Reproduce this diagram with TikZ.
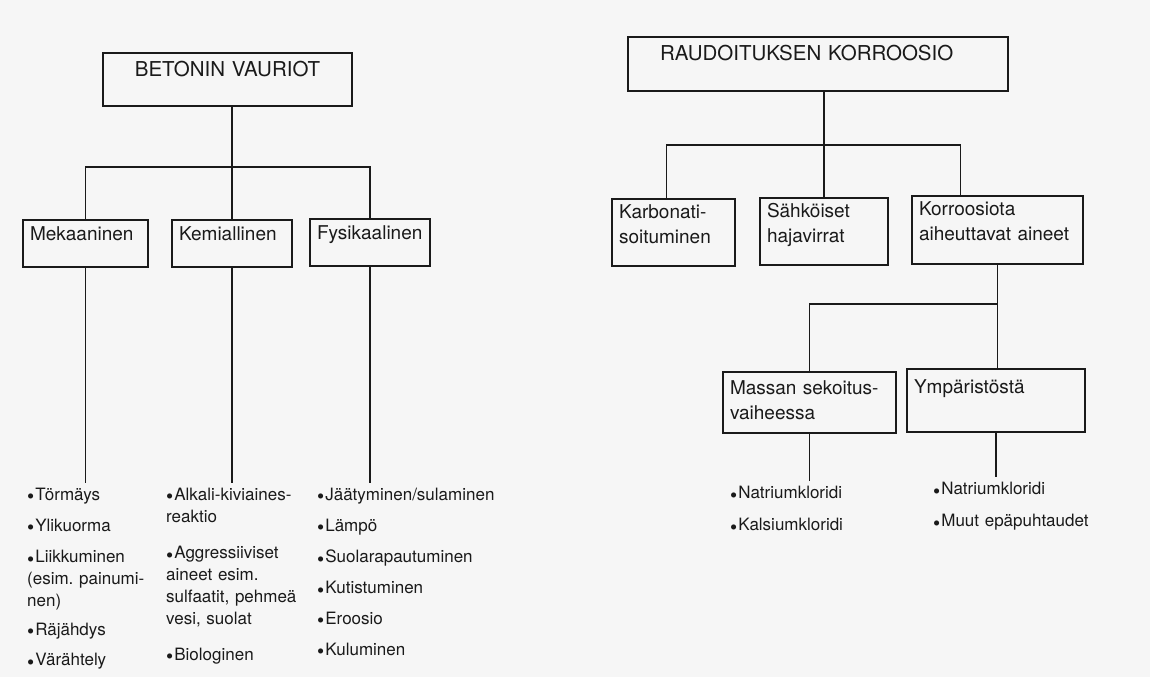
\documentclass[tikz,border=0pt]{standalone}
\usepackage{fontspec}
\setmainfont{TeX Gyre Heros}
\usepackage{tikz}
\usetikzlibrary{positioning,calc}
\definecolor{Paper}{HTML}{F6F6F6}
\definecolor{Ink}{HTML}{1A1A1A}
\newcommand{\dotitem}{\raisebox{-0.2em}{\scalebox{1.2}{\textbullet}}\hspace{1pt}}
\frenchspacing

\begin{document}
\begin{tikzpicture}[x=1pt,y=-1pt,
    box/.style={draw=Ink,line width=1.5pt,outer sep=0pt,anchor=north west,align=left,inner xsep=7pt,inner ysep=6pt,text height=14pt,font=\fontsize{19}{25}\selectfont,text=Ink},
    topbox/.style={box,inner ysep=8pt,text height=15pt,font=\fontsize{20.5}{25}\selectfont},
    list/.style={anchor=north west,align=left,inner xsep=0pt,inner ysep=5pt,text width=150pt,font=\fontsize{17}{22}\selectfont\frenchspacing,text=Ink},
    link/.style={draw=Ink,line width=1.4pt}
]
\fill[Paper] (0,0) rectangle (1150,677);
\useasboundingbox (0,0) rectangle (1150,677);

\node[topbox,align=center,text width=235pt,text depth=22pt] (bv) at (103,53) {BETONIN VAURIOT};
\node[box,text width=111pt,text depth=21pt] (mek) at (23,220) {Mekaaninen};
\node[box,text width=106pt,text depth=21pt] (kem) at (172,220) {Kemiallinen};
\node[box,text width=106pt,text depth=21pt] (fys) at (310,219) {Fysikaalinen};

\node[list] (mekl) at (27,483) {\dotitem Törmäys\\[9pt]\dotitem Ylikuorma\\[9pt]\dotitem Liikkuminen\\(esim. painumi-\\nen)\\[7pt]\dotitem Räjähdys\\[8pt]\dotitem Värähtely};
\node[list] (keml) at (166,483) {\dotitem Alkali-kiviaines-\\reaktio\\[14pt]\dotitem Aggressiiviset\\aineet esim.\\sulfaatit, pehmeä\\vesi, suolat\\[14pt]\dotitem Biologinen};
\node[list,text width=180pt] (fysl) at (317,483) {\dotitem Jäätyminen/sulaminen\\[9pt]\dotitem Lämpö\\[9pt]\dotitem Suolarapautuminen\\[9pt]\dotitem Kutistuminen\\[9pt]\dotitem Eroosio\\[9pt]\dotitem Kuluminen};

\node[topbox,inner xsep=32pt,text width=316pt,text depth=23pt] (rk) at (628,37) {RAUDOITUKSEN KORROOSIO};
\node[box,inner ysep=5pt,text width=109pt,text depth=43pt] (kar) at (612,199) {Karbonati-\\soituminen};
\node[box,inner ysep=5pt,text width=114pt,text depth=43pt] (sah) at (760,198) {Sähköiset\\hajavirrat};
\node[box,inner ysep=5pt,text width=157pt,text depth=44pt] (kor) at (912,196) {Korroosiota\\aiheuttavat aineet};
\node[box,inner ysep=8pt,text width=159pt,text depth=31pt] (mas) at (723,372) {Massan sekoitus-\\vaiheessa};
\node[box,inner ysep=10pt,text width=164pt,text depth=29pt] (ymp) at (907,369) {Ympäristöstä};

\node[list] (masl) at (730,481) {\dotitem Natriumkloridi\\[10pt]\dotitem Kalsiumkloridi};
\node[list,text width=180pt] (ympl) at (933,477) {\dotitem Natriumkloridi\\[10pt]\dotitem Muut epäpuhtaudet};

\coordinate (bvj) at ($(bv.south -| kem.north)+(0,61)$);
\coordinate (rkj) at ($(rk.south -| sah.north)+(0,54)$);
\coordinate (korj) at ($(kor.south)+(0,40)$);

\draw[link] (bv.south -| kem.north) -- (kem.north);
\draw[link] (mek.north) |- (bvj) -| (fys.north);
\draw[link] (mek.south) -- (mek.south |- mekl.north);
\draw[link] (kem.south) -- (kem.south |- keml.north);
\draw[link] (fys.south) -- (fys.south |- fysl.north);

\draw[link] (rk.south -| sah.north) -- (sah.north);
\draw[link] ([xshift=-7pt]kar.north) |- (rkj) -| ([xshift=-37pt]kor.north);
\draw[link] (kor.south) -- (kor.south |- ymp.north);
\draw[link] (mas.north) |- (korj);
\draw[link] (mas.south) -- (mas.south |- masl.north);
\draw[link] (ymp.south) -- (ymp.south |- ympl.north);
\end{tikzpicture}
\end{document}
